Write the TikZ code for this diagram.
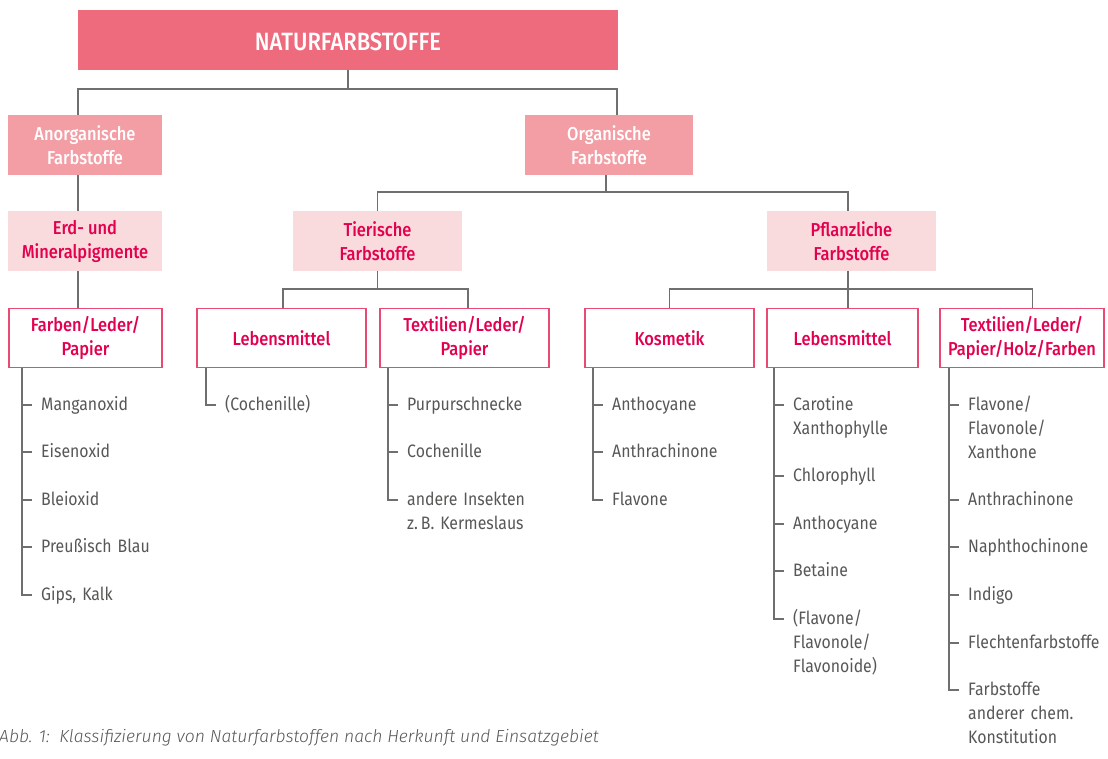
\documentclass[tikz,border=0pt]{standalone}
\usepackage{fontspec}
\setmainfont{Fira Sans}[FakeStretch=0.88]
\newfontfamily\medfont{Fira Sans Medium}[FakeStretch=0.88]
\newfontfamily\capfont{Fira Sans Light}
\usepackage{xcolor}
\usetikzlibrary{positioning}

\definecolor{rootred}{HTML}{EE6B7D}
\definecolor{mainpink}{HTML}{F39DA4}
\definecolor{subpink}{HTML}{FADBDD}
\definecolor{titlered}{HTML}{E2004F}
\definecolor{framered}{HTML}{E94A74}
\definecolor{linegray}{HTML}{6F6F6E}
\definecolor{itemgray}{HTML}{575756}

\begin{document}
\begin{tikzpicture}[x=1pt,y=-1pt,
   every node/.style={inner sep=0pt,align=center},
   rootbox/.style={fill=rootred,text=white,minimum height=60pt,text height=21pt,text depth=0pt,font=\medfont\fontsize{25}{28}\selectfont},
   mainbox/.style={fill=mainpink,text=white,minimum height=60pt,font=\medfont\fontsize{18.7}{24}\selectfont},
   subbox/.style={fill=subpink,text=titlered,minimum height=60pt,font=\medfont\fontsize{18.7}{24}\selectfont},
   usebox/.style={draw=framered,line width=1.2pt,fill=white,text=titlered,minimum height=59pt,font=\medfont\fontsize{18.7}{24}\selectfont},
   conn/.style={draw=linegray,line width=1.3pt},
   item/.style={anchor=north west,yshift=11pt,text width=160pt,align=left,text=itemgray,font=\fontsize{18}{23.7}\selectfont,execute at begin node=\strut}]
\useasboundingbox (0,0) rectangle (1108,758);

% boxes
\node[rootbox,minimum width=540pt] (natur) at (348,40) {NATURFARBSTOFFE};
\node[mainbox,minimum width=154pt] (anorg) at (85,145) {Anorganische\\Farbstoffe};
\node[mainbox,minimum width=168pt] (org) at (609,145) {Organische\\Farbstoffe};
\node[subbox,minimum width=154pt] (erd) at (85,241) {Erd- und\\Mineralpigmente};
\node[subbox,minimum width=169pt] (tier) at (377.5,241) {Tierische\\Farbstoffe};
\node[subbox,minimum width=169pt] (pflanz) at (851.5,241) {Pflanzliche\\Farbstoffe};
\node[usebox,minimum width=153pt] (farb) at (85.5,338) {Farben/Leder/\\Papier};
\node[usebox,minimum width=169pt] (lebt) at (281.5,338) {Lebensmittel};
\node[usebox,minimum width=169pt] (textt) at (464.5,338) {Textilien/Leder/\\Papier};
\node[usebox,minimum width=169pt] (kosm) at (669.5,338) {Kosmetik};
\node[usebox,minimum width=151pt] (lebp) at (842.5,338) {Lebensmittel};
\node[usebox,minimum width=164pt] (texp) at (1022,338) {Textilien/Leder/\\Papier/Holz/Farben};

% tree
\coordinate (bus1) at (0,89);
\coordinate (bus2) at (0,192);
\coordinate (bus3) at (0,289);
\draw[conn] (natur.south) -- (natur.south |- bus1);
\draw[conn] ([xshift=-7pt]anorg.north) |- (natur.south |- bus1) -| ([xshift=8pt]org.north);
\draw[conn] ([xshift=-7pt]anorg.south) -- ([xshift=-7pt]erd.north);
\draw[conn] ([xshift=-7pt]erd.south) -- ([xshift=-7.5pt]farb.north);
\draw[conn] ([xshift=-3pt]org.south) -- ([xshift=-3pt]org.south |- bus2);
\draw[conn] (tier.north) |- (org.south |- bus2) -| ([xshift=-3.5pt]pflanz.north);
\draw[conn] (tier.south) -- (tier.south |- bus3);
\draw[conn] ([xshift=1.5pt]lebt.north) |- (tier.south |- bus3) -| ([xshift=3.5pt]textt.north);
\draw[conn] ([xshift=-3.5pt]pflanz.south) -- ([xshift=5.5pt]lebp.north);
\draw[conn] (kosm.north) |- (lebp.north |- bus3) -| ([xshift=10.5pt]texp.north);

% lists
\foreach \t/\y [count=\i] in {Manganoxid/405,Eisenoxid/452,Bleioxid/500,Preußisch Blau/547,Gips{,} Kalk/595}{
  \node[item] (fa\i) at (41,\y) {\t};
  \draw[conn] ([shift={(-19pt,-11pt)}]fa\i.north west) -- ++(10,0);
}
\draw[conn] (farb.south -| 22,0) |- ([shift={(-9pt,-11pt)}]fa5.north west);

\node[item] (lt1) at (225,405) {(Cochenille)};
\draw[conn] (lebt.south -| 206,0) |- ([shift={(-9pt,-11pt)}]lt1.north west);

\foreach \t/\y [count=\i] in {Purpurschnecke/405,Cochenille/452,andere Insekten\\z.\,B. Kermeslaus/500}{
  \node[item] (tt\i) at (407,\y) {\t};
  \draw[conn] ([shift={(-19pt,-11pt)}]tt\i.north west) -- ++(10,0);
}
\draw[conn] (textt.south -| 388,0) |- ([shift={(-9pt,-11pt)}]tt3.north west);

\foreach \t/\y [count=\i] in {Anthocyane/405,Anthrachinone/452,Flavone/500}{
  \node[item] (ko\i) at (612,\y) {\t};
  \draw[conn] ([shift={(-19pt,-11pt)}]ko\i.north west) -- ++(10,0);
}
\draw[conn] (kosm.south -| 593,0) |- ([shift={(-9pt,-11pt)}]ko3.north west);

\foreach \t/\y [count=\i] in {Carotine\\Xanthophylle/405,Chlorophyll/476,Anthocyane/524,Betaine/571,{(Flavone/\\Flavonole/\\Flavonoide)}/619}{
  \node[item] (lp\i) at (793,\y) {\t};
  \draw[conn] ([shift={(-19pt,-11pt)}]lp\i.north west) -- ++(10,0);
}
\draw[conn] (lebp.south -| 774,0) |- ([shift={(-9pt,-11pt)}]lp5.north west);

\foreach \t/\y [count=\i] in {{Flavone/\\Flavonole/\\Xanthone}/405,Anthrachinone/500,Naphthochinone/547,Indigo/595,Flechtenfarbstoffe/643,Farbstoffe\\anderer chem.\\Konstitution/690}{
  \node[item] (tp\i) at (968,\y) {\t};
  \draw[conn] ([shift={(-19pt,-11pt)}]tp\i.north west) -- ++(10,0);
}
\draw[conn] (texp.south -| 949,0) |- ([shift={(-9pt,-11pt)}]tp6.north west);

% caption
\node[anchor=west,text=itemgray,font=\capfont\itshape\fontsize{17.5}{20}\selectfont] (caption) at (-1,738) {Abb. 1:\ \ Klassifizierung von Naturfarbstoffen nach Herkunft und Einsatzgebiet};
\end{tikzpicture}
\end{document}
